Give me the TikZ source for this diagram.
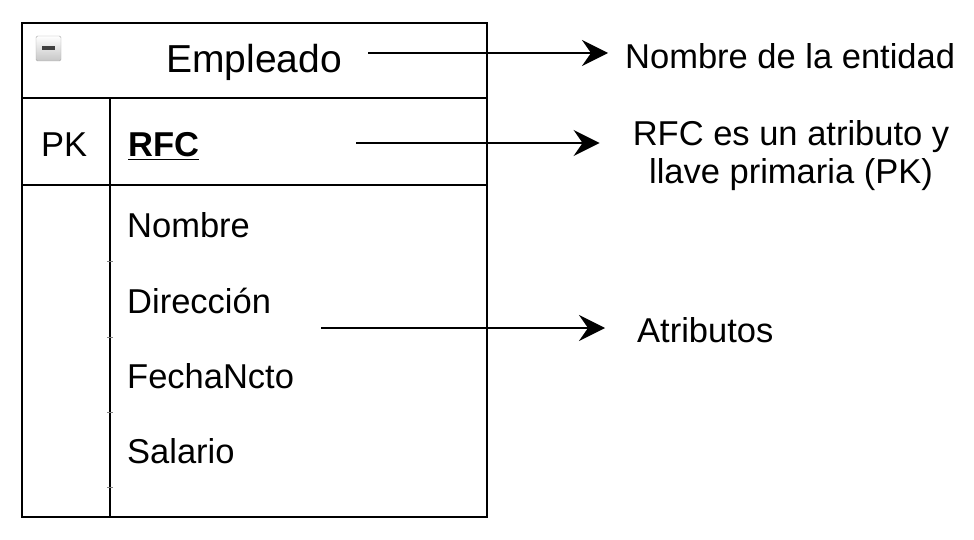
\documentclass[tikz,border=0pt]{standalone}
\usepackage{fontspec}
\setmainfont{Liberation Sans}
\usetikzlibrary{arrows.meta}

\begin{document}
\begin{tikzpicture}[x=1pt, y=-1pt,
    txt/.style={inner sep=0pt, font=\fontsize{34.5}{38}\selectfont},
    arr/.style={line width=2.2pt, -{Stealth[length=26pt, width=26pt, inset=9pt]}}]

\useasboundingbox (0,0) rectangle (974,540);

% tabla de la entidad
\draw[line width=2.4pt] (22,23) rectangle (487,517);
\draw[line width=2.4pt] (22,98) -- (487,98);
\draw[line width=2.4pt] (22,185) -- (487,185);
\draw[line width=2.4pt] (110,98) -- (110,517);
\foreach \y in {261,337,412,487}
    \draw[line width=0.8pt, gray] (107,\y) -- (113,\y);

% icono
\shade[top color=white, bottom color=gray!45, draw=gray!70, rounded corners=1.5pt]
    (36,36) rectangle (61,61);
\fill[black!75] (42,46.5) rectangle (55,50);

\node[txt, anchor=base, font=\fontsize{39}{44}\selectfont] (entidad) at (254,73) {Empleado};
\node[txt, anchor=base west] (pk) at (41,157) {PK};
\node[txt, anchor=base west] (rfc) at (128,157) {\underline{\textbf{RFC}}};
\node[txt, anchor=base west] (nombre) at (127,237) {Nombre};
\node[txt, anchor=base west] (direccion) at (127,313) {Dirección};
\node[txt, anchor=base west] (fecha) at (127,388) {FechaNcto};
\node[txt, anchor=base west] (salario) at (127,463) {Salario};

% notas
\node[txt, anchor=base west] (nomlbl) at (625,69) {Nombre de la entidad};
\node[txt, align=center] (pklbl) at (791,156) {RFC es un atributo y\\llave primaria (PK)};
\node[txt, anchor=base west] (atrlbl) at (637,342) {Atributos};

\coordinate (a1) at (368,53);
\coordinate (a2) at (356,143);
\coordinate (a3) at (321,328);

\draw[arr, shorten >=17pt] (a1) -- (a1 -| nomlbl.west);
\draw[arr, shorten >=33pt] (a2) -- (a2 -| pklbl.west);
\draw[arr, shorten >=32pt] (a3) -- (a3 -| atrlbl.west);

\end{tikzpicture}
\end{document}
